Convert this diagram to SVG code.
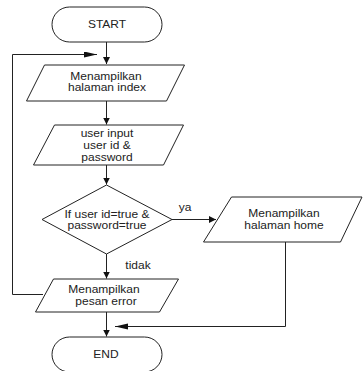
<svg xmlns="http://www.w3.org/2000/svg" width="363" height="371" viewBox="0 0 363 371">
<style>
.shape{fill:#fff;stroke:#222;stroke-width:1}
.conn{fill:none;stroke:#222;stroke-width:1}
text{font-family:"Liberation Sans",Arial,sans-serif;font-size:10px;fill:#222;text-anchor:middle}
</style>
<defs>
<marker id="ah" markerUnits="userSpaceOnUse" markerWidth="8" markerHeight="8" refX="7" refY="3.5" orient="auto">
<path d="M0,0 L7,3.5 L0,7 z" fill="#111"/>
</marker>
<marker id="ahl" markerUnits="userSpaceOnUse" markerWidth="14" markerHeight="7" refX="13" refY="3" orient="auto">
<path d="M0,0 L13,3 L0,6 z" fill="#111"/>
</marker>
</defs>
<rect width="363" height="371" fill="#fff"/>
<g id="connectors">
<path class="conn" d="M106.5,42 V64" marker-end="url(#ah)"/>
<path class="conn" d="M106.5,101 V124.5" marker-end="url(#ah)"/>
<path class="conn" d="M106.5,165 V184.5" marker-end="url(#ah)"/>
<path class="conn" d="M106.5,254 V278.5" marker-end="url(#ah)"/>
<path class="conn" d="M106.5,312 V336.5" marker-end="url(#ah)"/>
<path class="conn" d="M172,219.5 H216" marker-end="url(#ah)"/>
<path class="conn" d="M285.5,242 V326.5 H115" marker-end="url(#ahl)"/>
<path class="conn" d="M43,294.5 H12.5 V54.5 H97" marker-end="url(#ahl)"/>
</g>
<g id="start">
<rect class="shape" x="52" y="7" width="110" height="35" rx="17.5"/>
<text transform="matrix(1.2,0,0,1,107,28)">START</text>
</g>
<g id="index">
<polygon class="shape" points="44.5,65 184.5,65 166.5,101 26.5,101"/>
<text transform="matrix(1.2,0,0,1,106,79.5)">Menampilkan</text>
<text transform="matrix(1.2,0,0,1,107,91)">halaman index</text>
</g>
<g id="input">
<polygon class="shape" points="54.5,125 183.5,125 163.5,165 33.5,165"/>
<text transform="matrix(1.2,0,0,1,107,136.5)">user input</text>
<text transform="matrix(1.2,0,0,1,107,148.5)">user id &amp;</text>
<text transform="matrix(1.2,0,0,1,107,160.5)">password</text>
</g>
<g id="decision">
<polygon class="shape" points="106.5,185 172,219.5 106.5,254 42,219.5"/>
<text transform="matrix(1.2,0,0,1,107,217.5)">If user id=true &amp;</text>
<text transform="matrix(1.2,0,0,1,107,229)">password=true</text>
</g>
<g id="home">
<polygon class="shape" points="231.5,197 362,197 340.5,242 203.5,242"/>
<text transform="matrix(1.2,0,0,1,284,216.5)">Menampilkan</text>
<text transform="matrix(1.2,0,0,1,284,228.5)">halaman home</text>
</g>
<g id="error">
<polygon class="shape" points="53.5,279 178.5,279 159.5,312 35.5,312"/>
<text transform="matrix(1.2,0,0,1,104,293)">Menampilkan</text>
<text transform="matrix(1.2,0,0,1,106,304.5)">pesan error</text>
</g>
<g id="end">
<rect class="shape" x="52" y="337" width="110" height="35" rx="17.5"/>
<text transform="matrix(1.2,0,0,1,106,358)">END</text>
</g>
<g id="labels">
<text transform="matrix(1.2,0,0,1,185,211)">ya</text>
<text transform="matrix(1.2,0,0,1,138,269)">tidak</text>
</g>
</svg>
